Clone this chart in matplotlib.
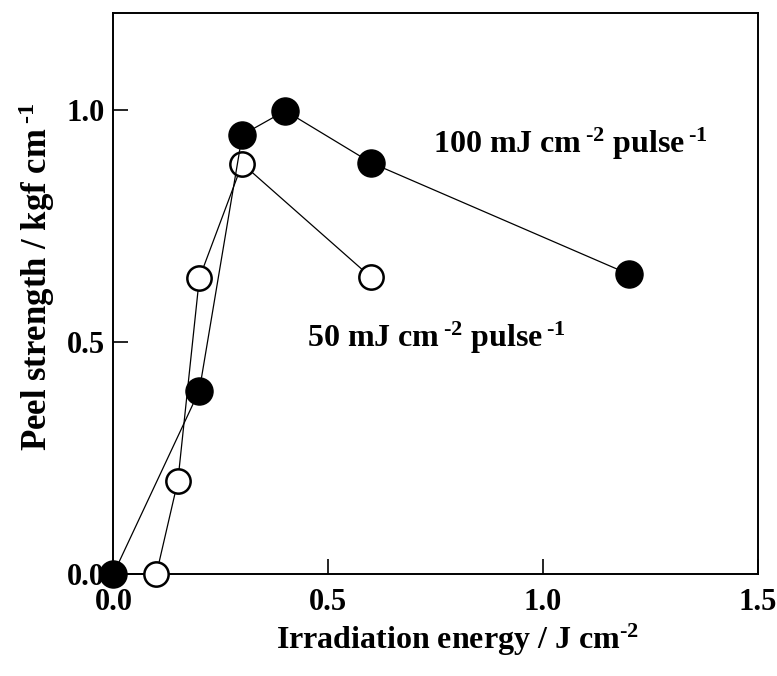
import matplotlib
matplotlib.use("Agg")
import matplotlib.pyplot as plt

plt.rcParams['font.family'] = ['Liberation Serif', 'DejaVu Serif']
plt.rcParams['font.weight'] = 'bold'
plt.rcParams['axes.labelweight'] = 'bold'
plt.rcParams['mathtext.fontset'] = 'custom'
plt.rcParams['mathtext.rm'] = 'Liberation Serif:bold'
plt.rcParams['mathtext.it'] = 'Liberation Serif:bold'
plt.rcParams['mathtext.bf'] = 'Liberation Serif:bold'

# 100 mJ cm-2 pulse-1 (filled)
energy_100 = [0.0, 0.2, 0.3, 0.4, 0.6, 1.2]
peel_100 = [0.0, 0.395, 0.946, 0.998, 0.886, 0.646]
# 50 mJ cm-2 pulse-1 (open)
energy_50 = [0.0, 0.1, 0.15, 0.2, 0.3, 0.6]
peel_50 = [0.0, 0.0, 0.2, 0.637, 0.884, 0.639]

xticks = [0.0, 0.5, 1.0, 1.5]
yticks = [0.0, 0.5, 1.0]

H = '\u2010'

fig = plt.figure(figsize=(7.77, 6.76), dpi=100)
ax = fig.add_axes([0.146, 0.151, 0.829, 0.830])

ax.plot(energy_50, peel_50, '-o', color='black', lw=0.9, ms=17.5,
        mfc='white', mec='black', mew=1.8, zorder=3, clip_on=False)
ax.plot(energy_100, peel_100, '-o', color='black', lw=0.9, ms=19.5,
        mfc='black', mec='black', zorder=4, clip_on=False)

ax.set_xlim(0, 1.5)
ax.set_ylim(0, 1.209)
ax.set_xticks(xticks)
ax.set_yticks(yticks)
ax.set_xticklabels([f"{v:.1f}" for v in xticks])
ax.set_yticklabels([f"{v:.1f}" for v in yticks])
ax.tick_params(direction='in', length=11, width=1.2, labelsize=22,
               top=False, right=False)
ax.tick_params(axis='x', pad=10)
ax.tick_params(axis='y', pad=6)
for s in ax.spines.values():
    s.set_linewidth(1.4)

ax.set_xlabel('Irradiation energy / J cm$^{' + H + '2}$', fontsize=23)
ax.set_ylabel('Peel strength / kgf cm$\\,^{' + H + '1}$', fontsize=25)
ax.xaxis.set_label_coords(0.534, -0.085)
ax.yaxis.set_label_coords(-0.088, 0.529)

ax.text(0.744, 0.907, '100 mJ cm$\\,^{' + H + '2}$ pulse$\\,^{' + H + '1}$',
        fontsize=23, ha='left', va='baseline')
ax.text(0.451, 0.489, '50 mJ cm$\\,^{' + H + '2}$ pulse$\\,^{' + H + '1}$',
        fontsize=23, ha='left', va='baseline')

fig.savefig('out.png', dpi=100)
